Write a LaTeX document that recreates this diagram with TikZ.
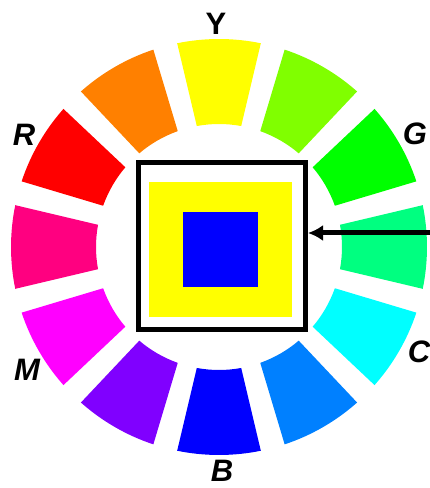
\documentclass[tikz,border=0pt]{standalone}
\usepackage{fontspec}
\setmainfont{Liberation Sans}
\usetikzlibrary{arrows.meta}
\definecolor{cY}{HTML}{FFFF00}
\definecolor{cYG}{HTML}{80FF00}
\definecolor{cG}{HTML}{00FF00}
\definecolor{cSG}{HTML}{00FF80}
\definecolor{cC}{HTML}{00FFFF}
\definecolor{cAZ}{HTML}{0080FF}
\definecolor{cB}{HTML}{0000FF}
\definecolor{cV}{HTML}{8000FF}
\definecolor{cM}{HTML}{FF00FF}
\definecolor{cRo}{HTML}{FF0080}
\definecolor{cR}{HTML}{FF0000}
\definecolor{cO}{HTML}{FF8000}
\begin{document}
\begin{tikzpicture}[x=1pt,y=1pt,
  lbl/.style={font=\fontsize{31}{31}\selectfont\bfseries\itshape, inner sep=0pt},
  lblup/.style={font=\fontsize{31}{31}\selectfont\bfseries, inner sep=0pt}]
\useasboundingbox (0,0) rectangle (430,488);
\begin{scope}[shift={(219,241)}]
\foreach \t/\c in {90/cY,60/cYG,30/cG,0/cSG,-30/cC,-60/cAZ,-90/cB,-120/cV,-150/cM,180/cRo,150/cR,120/cO}{
  \fill[\c] (\t-11.6:208) arc[start angle=\t-11.6, end angle=\t+11.6, radius=208]
    -- (\t+10.4:123) arc[start angle=\t+10.4, end angle=\t-10.4, radius=123] -- cycle;
}
\end{scope}
\node[lblup] (Y) at (216,464) {Y};
\node[lbl] (G) at (415,354) {G};
\node[lbl] (C) at (419,136) {C};
\node[lbl] (B) at (222,17) {B};
\node[lbl] (M) at (27,118) {M};
\node[lbl] (R) at (24,353) {R};
\node[draw=black, line width=5pt, minimum size=167pt, inner sep=0pt] (frame) at (222,242) {};
\node[fill=cY, minimum width=143pt, minimum height=135pt, inner sep=0pt] (ysq) at (220.5,238.5) {};
\node[fill=cB, minimum size=75pt, inner sep=0pt] (bsq) at (220.5,238.5) {};
\coordinate (astart) at (432,255);
\draw[line width=5pt, -{Latex[length=15pt,width=16pt]}] (astart) -- (astart -| frame.east);
\end{tikzpicture}
\end{document}
